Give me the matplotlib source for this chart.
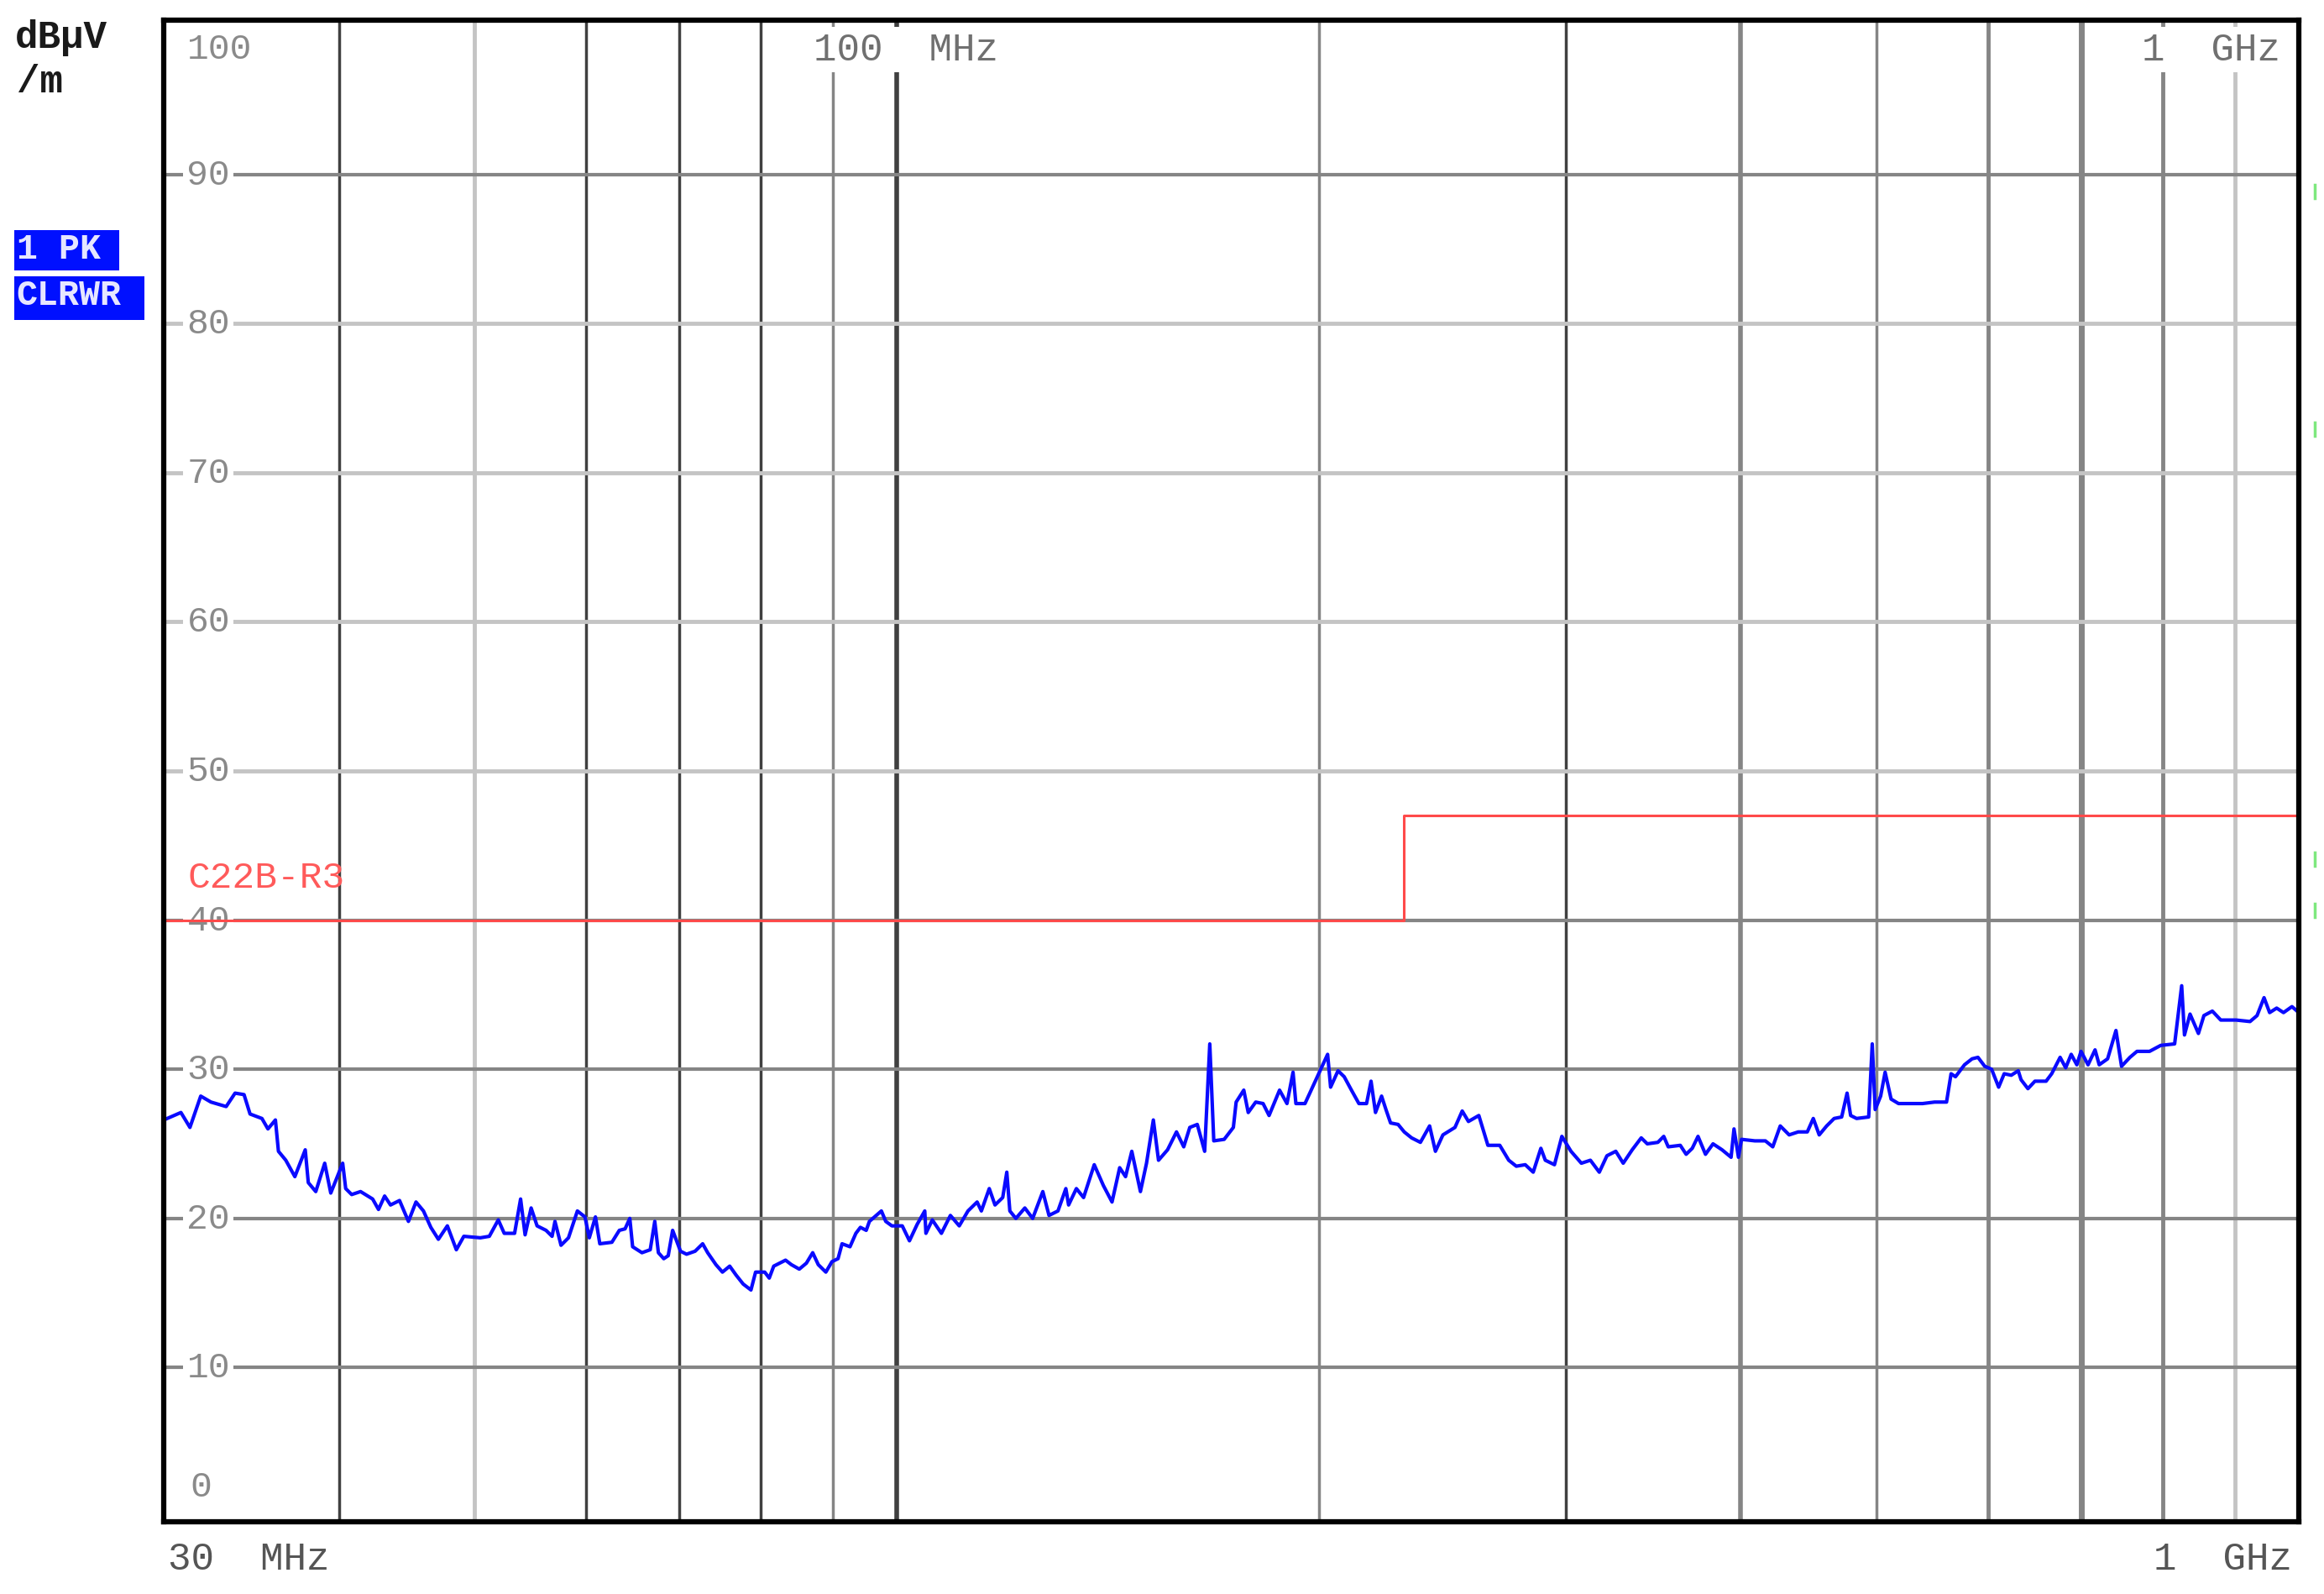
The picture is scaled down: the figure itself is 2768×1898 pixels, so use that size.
import matplotlib
matplotlib.use("Agg")
import matplotlib.pyplot as plt
from matplotlib.lines import Line2D
from matplotlib.patches import Rectangle
from matplotlib.transforms import blended_transform_factory

# measured peak trace (MHz, dBuV/m)
freq_mhz = [30.0, 30.86, 31.32, 31.88, 32.42, 33.24, 33.73, 34.23, 34.57, 35.25, 35.60, 36.04, 36.22,
            36.66, 37.21, 37.85, 38.04, 38.51, 39.08, 39.47, 40.25, 40.45, 40.85, 41.45, 42.28, 42.69,
            43.12, 43.54, 44.19, 44.84, 45.40, 45.96, 46.52, 47.10, 47.80, 48.51, 49.11, 50.46, 51.21,
            51.97, 52.48, 53.38, 53.91, 54.31, 54.85, 55.39, 56.21, 56.77, 57.04, 57.61, 58.32, 59.18,
            59.92, 60.35, 60.96, 61.40, 62.63, 63.40,
            64.0, 64.5, 64.8, 65.8, 66.7, 67.2, 67.6, 68.2, 68.7, 69.2, 70.1, 70.8, 71.8, 72.7, 73.3,
            74.3, 75.1, 76.0, 76.8, 77.7, 78.7, 79.3, 80.5, 81.1, 81.7, 83.3, 84.1, 85.2, 86.2, 87.1,
            87.9, 89.0, 89.9, 90.8, 91.4, 92.6, 93.5, 94.2, 95.1, 95.6, 97.5, 98.2, 99.2, 100.9, 102.1,
            103.4, 104.7, 104.9, 106.0, 107.6, 109.2, 110.8, 112.4, 114.1, 114.9, 116.4, 117.5, 119.0,
            119.8, 120.4, 121.6, 123.4, 125.0, 127.1, 128.4, 130.3,
            132.0, 132.6, 134.3, 135.9, 138.3, 140.4, 142.4, 144.2, 145.6, 147.1, 149.2, 150.7, 152.4,
            153.7, 156.0, 158.3, 160.2, 161.8, 163.8, 165.8, 167.2, 168.3, 171.2, 173.8, 174.6, 176.8,
            178.1, 180.3, 182.5, 184.3, 187.5, 189.8, 191.7, 192.6, 195.5, 198.4, 200.4, 202.9, 203.9,
            206.4, 208.5, 211.0, 213.6, 216.3, 217.9, 219.5, 221.7, 223.3, 225.0, 227.8, 230.1, 232.9,
            236.3, 239.9, 242.2, 245.2, 250.1, 253.1, 255.7, 260.1, 264.0, 269.2, 273.2, 276.6, 280.7,
            284.4, 288.0, 290.1, 294.5, 298.1, 302.6, 307.8, 312.4, 317.0, 321.0, 325.7, 329.7, 334.6,
            339.6, 343.0, 349.0, 352.4, 355.0, 362.1, 365.6, 369.3, 372.8, 377.4, 382.1, 387.8, 393.6,
            395.5, 398.4, 400.4, 409.3, 416.4, 421.5, 426.7, 433.0, 439.5, 446.1, 450.5, 454.9, 460.5,
            466.2, 472.0, 476.2, 479.0, 483.7, 493.4, 496.3, 498.7, 503.2, 506.9, 511.9, 518.2, 528.6,
            539.1, 549.8, 560.7, 564.9, 569.0, 577.5, 584.7, 590.4,
            597.0, 603.8, 610.8, 616.4, 623.6, 630.8, 633.7, 640.9, 648.3, 660.3, 666.4, 675.7, 681.9,
            688.1, 694.5, 699.3, 707.4, 715.6, 720.5, 730.5, 740.6, 747.4, 757.8, 766.6, 782.6, 797.1,
            815.5, 825.0, 828.8, 836.4, 848.0, 855.7, 867.6, 879.7, 902.2, 923.0, 933.7, 944.5, 953.2,
            964.3, 975.2, 988.8, 1000.0]
level_dbuv = [26.6, 27.1, 26.1, 28.2, 27.8, 27.5, 28.4, 28.3, 27.0, 26.7, 26.0, 26.6, 24.5,
              23.9, 22.8, 24.6, 22.4, 21.8, 23.7, 21.7, 23.7, 22.0, 21.6, 21.8, 21.3, 20.6,
              21.5, 20.9, 21.2, 19.8, 21.1, 20.5, 19.4, 18.6, 19.5, 17.9, 18.8, 18.7, 18.8,
              19.9, 19.0, 19.0, 21.3, 18.9, 20.7, 19.5, 19.2, 18.8, 19.8, 18.2, 18.7, 20.5,
              20.1, 18.7, 20.1, 18.3, 18.4, 19.2,
              19.3, 20.0, 18.1, 17.7, 17.9, 19.8, 17.7, 17.3, 17.5, 19.2, 17.8, 17.6, 17.8, 18.3, 17.7,
              16.9, 16.4, 16.8, 16.2, 15.6, 15.2, 16.4, 16.4, 16.0, 16.8, 17.2, 16.9, 16.6, 17.0, 17.7,
              16.9, 16.4, 17.1, 17.3, 18.3, 18.1, 19.0, 19.4, 19.2, 19.8, 20.5, 19.8, 19.5, 19.5, 18.5,
              19.6, 20.5, 19.0, 19.9, 19.0, 20.2, 19.5, 20.5, 21.1, 20.5, 22.0, 20.9, 21.4,
              23.1, 20.5, 20.0, 20.7, 20.0, 21.8, 20.2, 20.5,
              22.0, 20.9, 22.0, 21.4, 23.6, 22.2, 21.1, 23.4, 22.8, 24.5, 21.8, 23.7, 26.6,
              23.9, 24.6, 25.8, 24.8, 26.1, 26.3, 24.5, 31.7, 25.2, 25.3, 26.1, 27.8, 28.6,
              27.1, 27.8, 27.7, 26.9, 28.6, 27.7, 29.8, 27.7, 27.7, 29.0, 29.9, 31.0, 28.8,
              29.9, 29.5, 28.6, 27.7, 27.7, 29.2, 27.1, 28.2, 27.3, 26.4, 26.3, 25.8, 25.4,
              25.1, 26.2, 24.5, 25.6, 26.1, 27.2, 26.5, 26.9, 24.9, 24.9, 23.9, 23.5, 23.6,
              23.1, 24.7, 23.9, 23.6, 25.5, 24.5, 23.7, 23.9, 23.1, 24.2, 24.5, 23.7, 24.6,
              25.4, 25.0, 25.1, 25.5, 24.8, 24.9, 24.3, 24.7, 25.5, 24.3, 25.0, 24.6, 24.1,
              26.0, 24.1, 25.3, 25.2, 25.2, 24.8, 26.2, 25.6, 25.8, 25.8, 26.7, 25.6, 26.2,
              26.7, 26.8, 28.4, 26.9, 26.7, 26.8, 31.7, 27.3, 28.2, 29.8, 28.0, 27.7, 27.7,
              27.7, 27.8, 27.8, 29.7, 29.5, 30.3, 30.7, 30.8,
              30.2, 30.0, 28.8, 29.7, 29.6, 29.9, 29.3, 28.7, 29.2, 29.2, 29.7, 30.8, 30.1,
              31.0, 30.3, 31.2, 30.3, 31.3, 30.3, 30.7, 32.6, 30.2, 30.8, 31.2, 31.2, 31.6,
              31.7, 35.6, 32.3, 33.7, 32.4, 33.6, 33.9, 33.3, 33.3, 33.2, 33.6, 34.8, 33.8,
              34.1, 33.8, 34.2, 33.8]

# limit line C22B-R3
limit_freq = [30, 230, 230, 1000]
limit_level = [40, 40, 47, 47]

grid_freq = [40, 50, 60, 70, 80, 90, 100, 200, 300, 400, 500, 600, 700, 800, 900]
grid_level = [10, 20, 30, 40, 50, 60, 70, 80, 90]

DARK, MID, LIGHT = '#404040', '#858585', '#c4c4c4'
vstyle = {40: (DARK, 2.5), 50: (LIGHT, 3.5), 60: (DARK, 2.5), 70: (DARK, 2.5), 80: (DARK, 2.5),
          90: (MID, 2.5), 100: (DARK, 4), 200: (MID, 2.5), 300: (DARK, 2.5), 400: (MID, 4),
          500: (MID, 2.5), 600: (MID, 3.5), 700: (MID, 5), 800: (MID, 3.5), 900: (LIGHT, 3.5)}
hstyle = {10: (MID, 3), 20: (MID, 3), 30: (MID, 3), 40: (MID, 3), 50: (LIGHT, 3.5),
          60: (LIGHT, 3.5), 70: (LIGHT, 3.5), 80: (LIGHT, 3.5), 90: (MID, 3)}

FONT = 'Liberation Mono'
W, H = 2768, 1899
fig = plt.figure(figsize=(W / 100, H / 100), dpi=100)
ax = fig.add_axes([195 / W, 1 - 1813 / H, (2738 - 195) / W, (1813 - 25) / H])
ax.set_xscale('log')
ax.set_xlim(30, 1000)
ax.set_ylim(-0.34, 100.34)
ax.tick_params(which='both', length=0, labelbottom=False, labelleft=False)

for f in grid_freq:
    c, lw = vstyle[f]
    ax.axvline(f, color=c, lw=lw, zorder=1)
for v in grid_level:
    c, lw = hstyle[v]
    ax.axhline(v, color=c, lw=lw, zorder=1)

blend = blended_transform_factory(ax.transAxes, ax.transData)
for v in grid_level:
    ax.text(0.0108, v, str(v), transform=blend, ha='left', va='center', color='#8a8a8a',
            fontsize=31, family=FONT, zorder=3,
            bbox=dict(fc='white', ec='none', pad=3))
ax.text(0.0108, 98.4, '100', transform=blend, ha='left', va='center', color='#8a8a8a',
        fontsize=31, family=FONT, zorder=3)
ax.text(0.0125, 2.0, '0', transform=blend, ha='left', va='center', color='#8a8a8a',
        fontsize=31, family=FONT, zorder=3)

# top frequency labels, white box cuts the grid lines below the stub
ax.text(0.3476, 0.9805, '100  MHz', transform=ax.transAxes, ha='center', va='center',
        color='#707070', fontsize=33, family=FONT, zorder=3,
        bbox=dict(fc='white', ec='none', pad=3.5))
ax.text(0.9590, 0.9805, '1  GHz', transform=ax.transAxes, ha='center', va='center',
        color='#707070', fontsize=33, family=FONT, zorder=3,
        bbox=dict(fc='white', ec='none', pad=3.5))

ax.plot(limit_freq, limit_level, color='#ff4a4a', lw=2.2, zorder=4)
ax.text(0.0114, 42.9, 'C22B-R3', transform=blend, ha='left', va='center', color='#ff5a5a',
        fontsize=32, family=FONT, zorder=4)

ax.plot(freq_mhz, level_dbuv, color='#0a0aff', lw=3.0, zorder=5)

for s in ax.spines.values():
    s.set_linewidth(4.5)
    s.set_color('black')
    s.set_zorder(6)

# outside labels
fig.text(18 / W, 1 - 45 / H, 'dB\u03bcV', ha='left', va='center', fontsize=33,
         family=FONT, fontweight='bold', color='#1a1a1a')
fig.text(20 / W, 1 - 98 / H, '/m', ha='left', va='center', fontsize=33,
         family=FONT, fontweight='bold', color='#1a1a1a')
fig.text(200 / W, 1 - 1857 / H, '30  MHz', ha='left', va='center', fontsize=33,
         family=FONT, color='#555555')
fig.text(2730 / W, 1 - 1857 / H, '1  GHz', ha='right', va='center', fontsize=33,
         family=FONT, color='#555555')

fig.add_artist(Rectangle((17 / W, 1 - 323 / H), 125 / W, 48 / H, transform=fig.transFigure,
                         fc='#0010ff', ec='none'))
fig.add_artist(Rectangle((17 / W, 1 - 382 / H), 155 / W, 52 / H, transform=fig.transFigure,
                         fc='#0010ff', ec='none'))
fig.text(20 / W, 1 - 297 / H, '1 PK', ha='left', va='center', fontsize=30,
         family=FONT, fontweight='bold', color='#e6e6ff')
fig.text(19 / W, 1 - 352 / H, 'CLRWR', ha='left', va='center', fontsize=30,
         family=FONT, fontweight='bold', color='#e6e6ff')

# small green markers right of the frame
for y in [229, 512, 1024, 1085]:
    fig.add_artist(Line2D([2757 / W, 2757 / W], [1 - (y - 8) / H, 1 - (y + 8) / H],
                          transform=fig.transFigure, color='#7ee87e', lw=2.5))

fig.savefig('out.png', dpi=100, facecolor='white')
